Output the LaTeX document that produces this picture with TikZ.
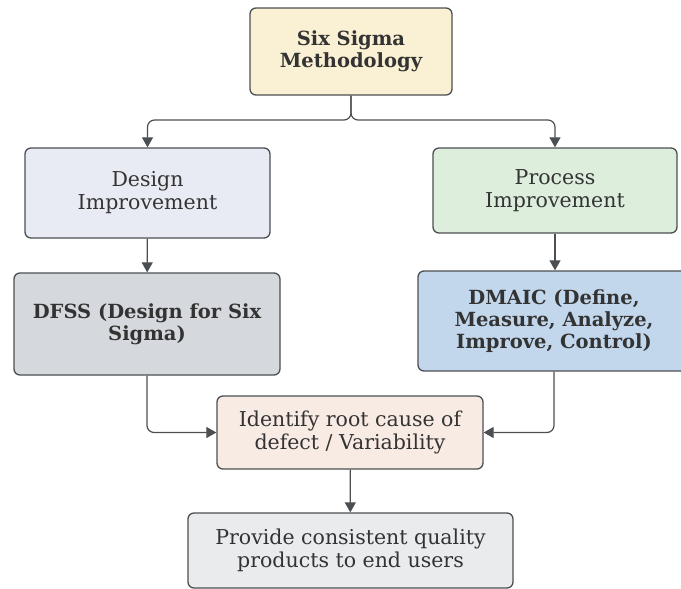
\documentclass[tikz,border=0pt]{standalone}
\usepackage{fontspec}
\setmainfont{DejaVu Serif}
\usetikzlibrary{arrows.meta}
\definecolor{edgegrey}{HTML}{4C4F52}
\definecolor{topfill}{HTML}{FAF0D4}
\definecolor{designfill}{HTML}{E9EBF4}
\definecolor{processfill}{HTML}{DDEEDC}
\definecolor{dfssfill}{HTML}{D5D9DE}
\definecolor{dmaicfill}{HTML}{C2D7EC}
\definecolor{rootfill}{HTML}{F8EBE4}
\definecolor{usersfill}{HTML}{E9EBED}

\begin{document}
\begin{tikzpicture}[x=1pt, y=1pt,
		box/.style={draw=edgegrey, line width=1.3pt, rounded corners=6pt, align=center,
			inner sep=0pt, text=black!80, font=\fontsize{20.5}{23}\selectfont},
		boldbox/.style={box, font=\fontsize{19.5}{22}\selectfont\bfseries},
		link/.style={draw=edgegrey, line width=1.2pt, rounded corners=7pt,
			-{Triangle[width=11pt, length=10pt]}}]
		\useasboundingbox (0, 0) rectangle (681, -589);
		\node[boldbox, fill=topfill, minimum width=202, minimum height=87] (method) at (351, -51.5) {Six Sigma\\Methodology};
		\node[box, fill=designfill, minimum width=245, minimum height=90] (design) at (147.5, -193) {Design\\Improvement};
		\node[box, fill=processfill, minimum width=244, minimum height=85] (process) at (555, -190.5) {Process\\Improvement};
		\node[boldbox, fill=dfssfill, minimum width=266, minimum height=102] (dfss) at (147, -324) {DFSS (Design for Six\\Sigma)};
		\node[boldbox, fill=dmaicfill, minimum width=272, minimum height=100] (dmaic) at (554, -321) {DMAIC (Define,\\Measure, Analyze,\\Improve, Control)};
		\node[box, fill=rootfill, minimum width=266, minimum height=73] (root) at (350, -432.5) {Identify root cause of\\defect / Variability};
		\node[box, fill=usersfill, minimum width=325, minimum height=75] (users) at (350.5, -550.5) {Provide consistent quality\\products to end users};
		\coordinate (split) at (351, -120);
		\draw[link] (method.south) -- (split) -| (design.north);
		\draw[link] (method.south) -- (split) -| (process.north);
		\draw[link] (design) -- (dfss);
		\draw[link] (process.south) -- (process.south |- dmaic.north);
		\draw[link] (dfss.south) |- (root.west);
		\draw[link] (dmaic.south) |- (root.east);
		\draw[link] (root) -- (users);
	\end{tikzpicture}
\end{document}
